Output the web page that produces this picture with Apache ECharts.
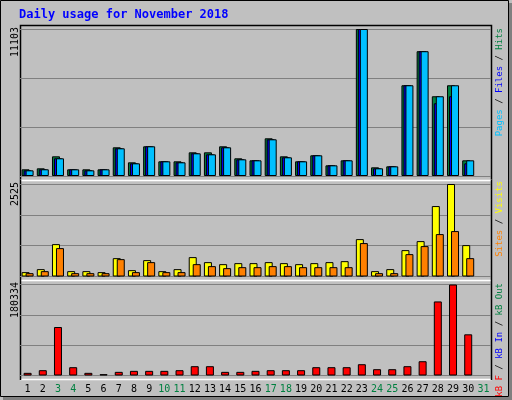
<!DOCTYPE html><html><head><meta charset="utf-8">
<script src="https://cdn.jsdelivr.net/npm/echarts@6/dist/echarts.min.js"></script>
<style>html,body{margin:0;padding:0;background:#c0c0c0}#c{width:512px;height:400px}</style></head><body><div id="c"></div>
<script>
const days=['1','2','3','4','5','6','7','8','9','10','11','12','13','14','15','16','17','18','19','20','21','22','23','24','25','26','27','28','29','30','31'];
const weekend=['3','4','10','11','17','18','24','25','31'];
const hits=[504,580,1487,504,504,504,2167,1033,2243,1109,1109,1789,1789,2243,1336,1184,2847,1487,1109,1563,806,1184,11103,655,730,6854,9425,6023,6854,1184,null];
const files=[428,507,1336,504,428,504,2092,958,2243,1109,1033,1714,1638,2167,1260,1184,2772,1412,1109,1563,806,1184,11103,580,730,6854,9425,5494,6023,958,null];
const pages=[428,507,1336,504,428,504,2092,958,2243,1109,1033,1714,1638,2167,1260,1184,2772,1412,1109,1563,806,1184,11103,580,730,6854,9425,6023,6854,1184,null];
const visits=[119,201,884,146,146,119,501,173,447,146,201,529,392,337,365,365,392,365,337,365,392,419,1021,146,201,720,966,1923,2525,857,null];
const sites=[91,146,775,91,91,91,474,119,392,119,119,337,283,228,255,255,283,283,255,255,255,255,912,91,91,611,830,1158,1240,501,null];
const kbf=[5265,10530,96088,16453,5265,2632,7240,9214,9214,9214,10530,18428,18428,7240,7240,9214,10530,10530,10530,16453,16453,16453,22377,12505,12505,18428,28300,146767,180334,81610,null];
const maxes=[11103,2525,180334];
const ch=echarts.init(document.getElementById('c'));
const grids=[{left:20,top:29,width:471,height:147},{left:20,top:184,width:471,height:92.5},{left:20,top:284.5,width:471,height:91}];
const bs={borderColor:'#000',borderWidth:1};
const mono='DejaVu Sans Mono';
function xa(i,show){return {type:'category',gridIndex:i,data:days,boundaryGap:true,axisLine:{show:false},axisTick:{show:false},
 axisLabel:{show:show,interval:0,fontFamily:mono,fontSize:10,margin:9,color:(v)=>weekend.includes(v)?'#008040':'#000'}};}
function ya(i){return {type:'value',gridIndex:i,min:0,max:maxes[i],interval:maxes[i]/3,axisLabel:{show:false},axisLine:{show:false},axisTick:{show:false},splitLine:{lineStyle:{color:'#808080',width:1}}};}
function vt(x,y,rich,text,size){return {type:'text',x:x,y:y,rotation:Math.PI/2,style:{text:text,rich:rich,font:size+'px '+mono,align:'right',verticalAlign:'middle',fill:'#000'}};}
const f='9px '+mono;
const rich={c:{fill:'#00c0ff',font:f},b:{fill:'#0000ff',font:f},g:{fill:'#008040',font:f},k:{fill:'#000',font:f},
 y:{fill:'#ffff00',font:f},o:{fill:'#ff8000',font:f},r:{fill:'#ff0000',font:f}};
ch.setOption({animation:false,backgroundColor:'#c0c0c0',
 grid:grids,xAxis:[xa(0,false),xa(1,false),xa(2,true)],yAxis:[ya(0),ya(1),ya(2)],
 series:[
  {type:'bar',xAxisIndex:0,yAxisIndex:0,data:hits,barWidth:8,barGap:'-75%',itemStyle:Object.assign({color:'#008040'},bs)},
  {type:'bar',xAxisIndex:0,yAxisIndex:0,data:files,barWidth:8,barGap:'-75%',itemStyle:Object.assign({color:'#0000ff'},bs)},
  {type:'bar',xAxisIndex:0,yAxisIndex:0,data:pages,barWidth:8,barGap:'-75%',itemStyle:Object.assign({color:'#00c0ff'},bs)},
  {type:'bar',xAxisIndex:1,yAxisIndex:1,data:visits,barWidth:8,barGap:'-50%',itemStyle:Object.assign({color:'#ffff00'},bs)},
  {type:'bar',xAxisIndex:1,yAxisIndex:1,data:sites,barWidth:8,barGap:'-50%',itemStyle:Object.assign({color:'#ff8000'},bs)},
  {type:'bar',xAxisIndex:2,yAxisIndex:2,data:kbf,barWidth:8,itemStyle:Object.assign({color:'#ff0000'},bs)}
 ],
 graphic:[
  {type:'rect',z:-1,shape:{x:0.5,y:0.5,width:508,height:396},style:{fill:'none',stroke:'#000',lineWidth:1}},
  {type:'rect',z:-1,shape:{x:509,y:3,width:3,height:397},style:{fill:'#808080'}},
  {type:'rect',z:-1,shape:{x:3,y:397,width:509,height:3},style:{fill:'#808080'}},
  {type:'polyline',z:-1,shape:{points:[[20.5,180],[20.5,25.5],[491.5,25.5],[491.5,180]]},style:{stroke:'#000',fill:'none',lineWidth:1.5}},
  {type:'line',z:-1,shape:{x1:20,y1:180.5,x2:492,y2:180.5},style:{stroke:'#fff',lineWidth:1.5}},
  {type:'line',z:-1,shape:{x1:20,y1:280.5,x2:492,y2:280.5},style:{stroke:'#fff',lineWidth:1.5}},
  {type:'line',z:-1,shape:{x1:20,y1:379.5,x2:492,y2:379.5},style:{stroke:'#fff',lineWidth:1.5}},
  {type:'line',z:-1,shape:{x1:20.5,y1:180,x2:20.5,y2:380},style:{stroke:'#000',lineWidth:1.5}},
  {type:'line',z:-1,shape:{x1:491.5,y1:180,x2:491.5,y2:380},style:{stroke:'#000',lineWidth:1.5}},
  {type:'text',x:19,y:15,style:{text:'Daily usage for November 2018',font:'bold 12px '+mono,fill:'#0000ff',verticalAlign:'middle'}},
  vt(15,27,{},'11103',10),vt(15,182,{},'2525',10),vt(15,282,{},'180334',10),
  vt(500,28,rich,'{c|Pages}{k| / }{b|Files}{k| / }{g|Hits}',9),
  vt(500,181,rich,'{o|Sites}{k| / }{y|Visits}',9),
  vt(500,283,rich,'{r|kB F}{k| / }{b|kB In}{k| / }{g|kB Out}',9)
 ]});
</script></body></html>
